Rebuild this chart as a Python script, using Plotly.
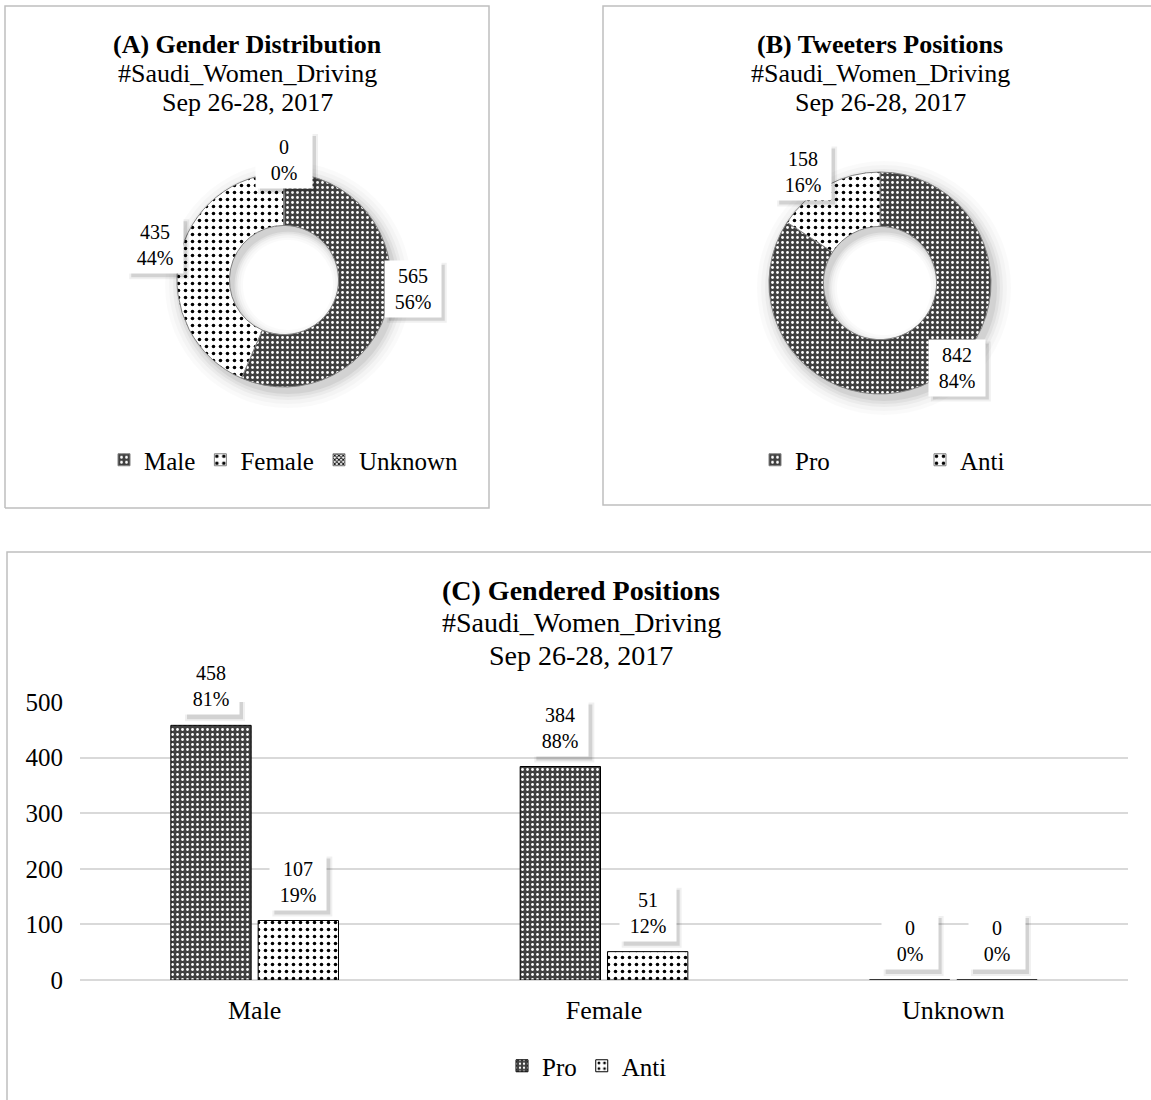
import math
import plotly.graph_objects as go

# ---------------- data ----------------
gender_labels = ["Male", "Female", "Unknown"]
gender_values = [565, 435, 0]

position_labels = ["Pro", "Anti"]
position_values = [842, 158]

bar_categories = ["Male", "Female", "Unknown"]
pro_values = [458, 384, 0]
anti_values = [107, 51, 0]

y_ticks = [0, 100, 200, 300, 400, 500]

title_lines_a = ["<b>(A) Gender Distribution</b>", "#Saudi_Women_Driving", "Sep 26-28, 2017"]
title_lines_b = ["<b>(B) Tweeters Positions</b>", "#Saudi_Women_Driving", "Sep 26-28, 2017"]
title_lines_c = ["<b>(C) Gendered Positions</b>", "#Saudi_Women_Driving", "Sep 26-28, 2017"]

# ---------------- style ----------------
W, H = 1151, 1100
FONT = "Liberation Serif"
DARK = "#404040"
BORDER = "#bfbfbf"
GRID = "#d9d9d9"
BOX = 56          # label box size (px)
SH = 4            # label shadow offset (px)


def px(x):
    return x / W


def py(y):
    return 1 - y / H


def pct(v, total):
    return f"{round(100 * v / total) if total else 0}%"


fig = go.Figure()
shapes = []
annotations = []

# ---------------- panel borders (kept inside the page) ----------------
def border_path(points):
    d = "M " + " L ".join(f"{px(x)},{py(y)}" for x, y in points)
    shapes.append(dict(type="path", xref="paper", yref="paper", path=d,
                       line=dict(color=BORDER, width=1.5), layer="below"))


border_path([(5, 508), (5, 6), (489, 6), (489, 508), (5, 508)])
border_path([(W, 6), (603, 6), (603, 505), (W, 505)])
border_path([(W, 552), (7, 552), (7, H)])

# ---------------- pies ----------------
pie_a = dict(cx=284, cy=280, r=107)
pie_b = dict(cx=880, cy=283, r=111)
HOLE = 0.51


def domain(cx, cy, r):
    return dict(x=[px(cx - r), px(cx + r)], y=[py(cy + r), py(cy - r)])


# soft drop shadow of the doughnuts
for pie, vals in [(pie_a, gender_values), (pie_b, position_values)]:
    for grow, alpha in [(16, 0.02), (12, 0.025), (8, 0.035), (5, 0.045), (2, 0.06)]:
        r = pie["r"] + grow
        fig.add_trace(go.Pie(
            values=[sum(vals)], labels=["shadow"], sort=False, textinfo="none",
            hoverinfo="skip", showlegend=False,
            hole=max(0.0, (pie["r"] * HOLE - grow * 0.6) / r),
            domain=domain(pie["cx"] + 4, pie["cy"] + 5, r),
            marker=dict(colors=[f"rgba(0,0,0,{alpha})"], line=dict(width=0)),
        ))

fig.add_trace(go.Pie(
    labels=gender_labels, values=gender_values, hole=HOLE, sort=False,
    direction="clockwise", rotation=0, textinfo="none",
    domain=domain(pie_a["cx"], pie_a["cy"], pie_a["r"]),
    marker=dict(colors=[DARK, "white", "white"],
                line=dict(color="#808080", width=1),
                pattern=dict(shape=[".", ".", "x"],
                             fgcolor=["white", "black", "black"],
                             bgcolor=[DARK, "white", "white"],
                             size=[5, 7, 3], solidity=[0.25, 0.2, 0.5],
                             fillmode="replace")),
    legend="legend", showlegend=True,
))

fig.add_trace(go.Pie(
    labels=position_labels, values=position_values, hole=HOLE, sort=False,
    direction="clockwise", rotation=0, textinfo="none",
    domain=domain(pie_b["cx"], pie_b["cy"], pie_b["r"]),
    marker=dict(colors=[DARK, "white"],
                line=dict(color="#808080", width=1),
                pattern=dict(shape=[".", "."],
                             fgcolor=["white", "black"],
                             bgcolor=[DARK, "white"],
                             size=[5, 7], solidity=[0.25, 0.2],
                             fillmode="replace")),
    legend="legend2", showlegend=True,
))

# ---------------- bars ----------------
fig.add_trace(go.Bar(
    name="Pro", x=bar_categories, y=pro_values,
    marker=dict(color=DARK, line=dict(color="black", width=1),
                pattern=dict(shape=".", fgcolor="white", bgcolor=DARK,
                             size=5, solidity=0.25, fillmode="replace")),
    legend="legend3", xaxis="x", yaxis="y",
))
fig.add_trace(go.Bar(
    name="Anti", x=bar_categories, y=anti_values,
    marker=dict(color="white", line=dict(color="black", width=1),
                pattern=dict(shape=".", fgcolor="black", bgcolor="white",
                             size=7, solidity=0.2, fillmode="replace")),
    legend="legend3", xaxis="x", yaxis="y",
))


def label_annotation(text, **kw):
    annotations.append(dict(text=text, showarrow=False,
                            font=dict(family=FONT, size=20, color="black"),
                            bgcolor="white", width=BOX, height=BOX, borderpad=0, **kw))


def pie_labels(values, pie):
    # "best fit"-like placement: box sits on the outer edge at the slice's mid angle,
    # pushed outward horizontally and slightly upward
    total = sum(values)
    cum = 0
    for v in values:
        theta = 2 * math.pi * (cum + v / 2) / total
        cum += v
        ex = pie["cx"] + pie["r"] * math.sin(theta)
        ey = pie["cy"] - pie["r"] * math.cos(theta)
        x = ex + 24 * max(-1.0, min(1.0, 3 * math.sin(theta)))
        y = ey - 13
        for spread, alpha in [(2, 0.06), (0, 0.12)]:
            shapes.append(dict(type="rect", xref="paper", yref="paper", layer="above",
                               x0=px(x - BOX / 2 + SH - spread), x1=px(x + BOX / 2 + SH + spread),
                               y0=py(y + BOX / 2 + SH + spread), y1=py(y - BOX / 2 + SH - spread),
                               line=dict(width=0), fillcolor=f"rgba(0,0,0,{alpha})"))
        label_annotation(f"{v}<br>{pct(v, total)}", xref="paper", yref="paper",
                         x=px(x), y=py(y), xanchor="center", yanchor="middle")


pie_labels(gender_values, pie_a)
pie_labels(position_values, pie_b)

# bar labels
plot_x0, plot_x1 = 80, 1128
bargap = 0.5
LIFT = 10
cat_w = (plot_x1 - plot_x0) / len(bar_categories)
slot = cat_w * (1 - bargap) / 2
for s, series in enumerate([pro_values, anti_values]):
    off = (s - 0.5) * slot
    for i, cat in enumerate(bar_categories):
        total = pro_values[i] + anti_values[i]
        v = series[i]
        for spread, alpha in [(2, 0.06), (0, 0.12)]:
            shapes.append(dict(type="rect", xref="x", yref="y", layer="above",
                               xsizemode="pixel", ysizemode="pixel", xanchor=i, yanchor=v,
                               x0=off - BOX / 2 + SH - spread, x1=off + BOX / 2 + SH + spread,
                               y0=LIFT - SH - spread, y1=LIFT + BOX - SH + spread,
                               line=dict(width=0), fillcolor=f"rgba(0,0,0,{alpha})"))
        label_annotation(f"{v}<br>{pct(v, total)}", xref="x", yref="y", x=cat, y=v,
                         xanchor="center", yanchor="bottom", xshift=off, yshift=LIFT)


# titles (one annotation per line)
def add_title(lines, cx, ys, size):
    for t, y in zip(lines, ys):
        annotations.append(dict(text=t, showarrow=False, xref="paper", yref="paper",
                                x=px(cx), y=py(y), xanchor="center", yanchor="middle",
                                font=dict(family=FONT, size=size, color="black")))


add_title(title_lines_a, 247, [45, 74, 103], 26)
add_title(title_lines_b, 880, [45, 74, 103], 26)
add_title(title_lines_c, 581, [590, 622, 655], 28)

legend_common = dict(orientation="h", yanchor="middle",
                     font=dict(family=FONT, size=25, color="black"),
                     bgcolor="rgba(0,0,0,0)", itemclick=False, itemdoubleclick=False)

fig.update_layout(
    width=W, height=H, margin=dict(l=0, r=0, t=0, b=0, autoexpand=False),
    paper_bgcolor="white", plot_bgcolor="white",
    font=dict(family=FONT, color="black"),
    barmode="group", bargap=bargap, bargroupgap=0.08,
    xaxis=dict(domain=[px(plot_x0), px(plot_x1)], anchor="y",
               categoryorder="array", categoryarray=bar_categories,
               showgrid=False, showline=False, ticks="",
               tickfont=dict(family=FONT, size=26, color="black"),
               ticklabelstandoff=12),
    yaxis=dict(domain=[py(980), py(702)], anchor="x", range=[0, 500],
               tickvals=y_ticks, showgrid=True, gridcolor=GRID, gridwidth=1.5,
               zeroline=True, zerolinecolor=GRID, zerolinewidth=1.5,
               showline=False, ticks="",
               tickfont=dict(family=FONT, size=25, color="black"),
               ticklabelstandoff=16),
    legend=dict(x=px(284), xanchor="center", y=py(460), **legend_common),
    legend2=dict(x=px(755), xanchor="left", y=py(460), entrywidth=120, **legend_common),
    legend3=dict(x=px(587), xanchor="center", y=py(1066), **legend_common),
    shapes=shapes,
    annotations=annotations,
)

fig.write_html("out.html")
